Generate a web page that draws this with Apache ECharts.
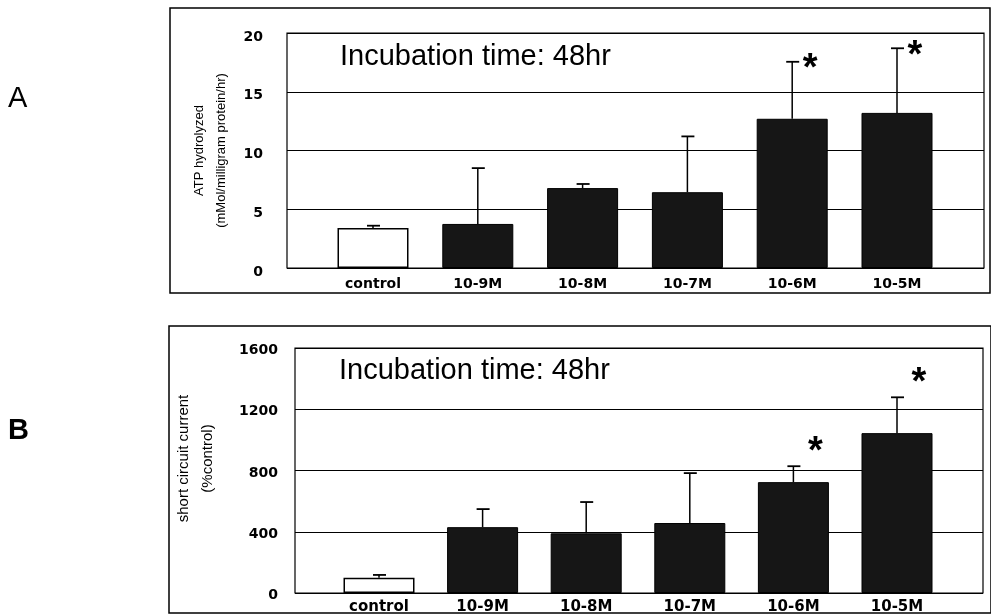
<!DOCTYPE html>
<html>
<head>
<meta charset="utf-8">
<title>Incubation time: 48hr</title>
<script src="https://cdn.jsdelivr.net/npm/echarts@6/dist/echarts.min.js"></script>
<style>
html,body{margin:0;padding:0;background:#fff;}
#chart{width:991px;height:615px;}
</style>
</head>
<body>
<div id="chart"></div>
<script>
//1.数据
var categories = ['control', '10-9M', '10-8M', '10-7M', '10-6M', '10-5M'];

//A: ATP hydrolyzed
var atpMean = [3.4, 3.75, 6.8, 6.45, 12.7, 13.2];
var atpErr = [0.2, 4.75, 0.35, 4.75, 4.85, 5.5];
var atpStar = [0, 0, 0, 0, 1, 1];
var atpTicks = [0, 5, 10, 15, 20];

//B: short circuit current
var sccMean = [100, 430, 390, 457, 724, 1044];
var sccErr = [18, 118, 204, 326, 104, 234];
var sccStar = [0, 0, 0, 0, 1, 1];
var sccTicks = [0, 400, 800, 1200, 1600];

var titleText = 'Incubation time: 48hr';

//2.工具函数
var util = {
	barData : function(list){
		var out = [];
		for(var i=0;i<list.length;i++){
			out.push({
				value : list[i],
				itemStyle : i == 0
					? {color:'#fff', borderColor:'#000', borderWidth:1.5}
					: {color:'#161616', borderColor:'#000', borderWidth:1}
			});
		}
		return out;
	},
	errData : function(mean,err,star){
		var out = [];
		for(var i=0;i<mean.length;i++){
			out.push([i, mean[i], mean[i]+err[i], star[i]]);
		}
		return out;
	},
	//误差线 + 星号
	errRender : function(starDx,starDy){
		return function(params,api){
			var base = api.coord([api.value(0), api.value(1)]);
			var top = api.coord([api.value(0), api.value(2)]);
			var children = [
				{type:'line', shape:{x1:base[0], y1:base[1], x2:top[0], y2:top[1]}, style:{stroke:'#000', lineWidth:1.5}},
				{type:'line', shape:{x1:top[0]-6, y1:top[1], x2:top[0]+7, y2:top[1]}, style:{stroke:'#000', lineWidth:1.8}}
			];
			if(api.value(3)){
				children.push({
					type:'text',
					style:{text:'*', x:top[0]+starDx, y:top[1]+starDy, fontSize:38, fontWeight:'bold',
						fontFamily:'Liberation Sans', fill:'#000', align:'center', verticalAlign:'middle'}
				});
			}
			return {type:'group', children:children};
		};
	}
};

//3.配置
var frameY = function(grid,max,interval,name,gap,fontSize,labelMargin,labelLH,namePad){
	return {
		gridIndex:grid, type:'value', min:0, max:max, interval:interval,
		name:name, nameLocation:'middle', nameRotate:90, nameGap:gap,
		nameTextStyle:{fontFamily:'Liberation Sans', fontSize:fontSize, color:'#000',
			lineHeight:fontSize+9, padding:namePad},
		axisLine:{show:false}, axisTick:{show:false},
		axisLabel:{margin:labelMargin, fontFamily:'DejaVu Sans', fontWeight:'bold', fontSize:14,
			color:'#000', verticalAlign:'top', lineHeight:labelLH,
			formatter:function(v){ return String(v); }},
		splitLine:{lineStyle:{color:'#000', width:1.2}}
	};
};
var barY = function(grid,max,interval){
	return {gridIndex:grid, type:'value', min:0, max:max, interval:interval, show:false, splitLine:{show:false}};
};
var barX = function(grid,fontSize,margin){
	return {
		gridIndex:grid, type:'category', data:categories,
		axisLine:{show:false}, axisTick:{show:false},
		axisLabel:{margin:margin, fontFamily:'DejaVu Sans', fontWeight:'bold', fontSize:fontSize, color:'#000'}
	};
};

var option = {
	animation:false,
	backgroundColor:'#fff',
	title:[
		{text:titleText, left:335, top:37, textStyle:{fontFamily:'Liberation Sans', fontWeight:'normal', fontSize:29, color:'#000'}},
		{text:titleText, left:334, top:351, textStyle:{fontFamily:'Liberation Sans', fontWeight:'normal', fontSize:29, color:'#000'}}
	],
	grid:[
		{left:287, right:7, top:33, bottom:347, show:true, borderColor:'#000', borderWidth:1.2},
		{left:320.6, right:41.6, top:33, bottom:347},
		{left:295, right:8, top:348, bottom:22, show:true, borderColor:'#000', borderWidth:1.2},
		{left:327.2, right:42.2, top:348, bottom:22}
	],
	xAxis:[
		{gridIndex:0, type:'value', min:0, max:1, show:false},
		barX(1,14,9),
		{gridIndex:2, type:'value', min:0, max:1, show:false},
		barX(3,15,7)
	],
	yAxis:[
		frameY(0, atpTicks[atpTicks.length-1], atpTicks[1]-atpTicks[0], 'ATP hydrolyzed\n(mMol/milligram protein/hr)', 51, 13, 24, 8, 0),
		barY(1, atpTicks[atpTicks.length-1], atpTicks[1]-atpTicks[0]),
		frameY(2, sccTicks[sccTicks.length-1], sccTicks[1]-sccTicks[0], 'short circuit current\n(%control)', 75, 15, 17, 5, [0,0,0,24]),
		barY(3, sccTicks[sccTicks.length-1], sccTicks[1]-sccTicks[0])
	],
	series:[
		{type:'bar', xAxisIndex:1, yAxisIndex:1, barWidth:71, data:util.barData(atpMean)},
		{type:'custom', xAxisIndex:1, yAxisIndex:1, renderItem:util.errRender(18,8), data:util.errData(atpMean,atpErr,atpStar), z:5},
		{type:'bar', xAxisIndex:3, yAxisIndex:3, barWidth:71, data:util.barData(sccMean)},
		{type:'custom', xAxisIndex:3, yAxisIndex:3, renderItem:util.errRender(22,-14), data:util.errData(sccMean,sccErr,sccStar), z:5}
	],
	graphic:[
		{type:'rect', shape:{x:170, y:8, width:820, height:285}, style:{fill:'none', stroke:'#000', lineWidth:1.5}},
		{type:'rect', shape:{x:169, y:326, width:822, height:287}, style:{fill:'none', stroke:'#000', lineWidth:1.5}},
		{type:'text', left:8, top:84, style:{text:'A', fontFamily:'Liberation Sans', fontSize:29, fill:'#000'}},
		{type:'text', left:8, top:416, style:{text:'B', fontFamily:'Liberation Sans', fontWeight:'bold', fontSize:29, fill:'#000'}}
	]
};

//4.启动
var myEchart = echarts.init(document.getElementById('chart'));
myEchart.setOption(option);
</script>
</body>
</html>
